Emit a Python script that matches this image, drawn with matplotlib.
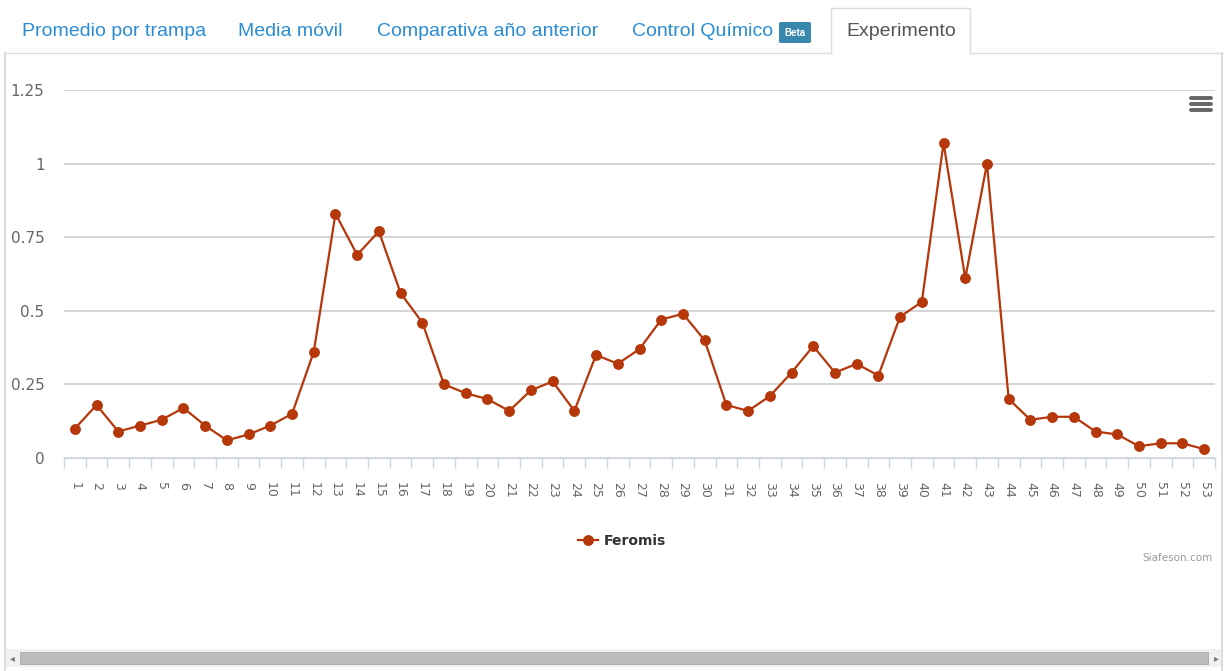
import matplotlib.pyplot as plt
from matplotlib.patches import FancyBboxPatch, Rectangle
from matplotlib.lines import Line2D

W, H = 1228, 671

semanas = list(range(1, 54))
etiquetas = [str(s) for s in semanas]
feromis = [0.10, 0.18, 0.09, 0.11, 0.13, 0.17, 0.11, 0.06, 0.08, 0.11,
           0.15, 0.36, 0.83, 0.69, 0.77, 0.56, 0.46, 0.25, 0.22, 0.20,
           0.16, 0.23, 0.26, 0.16, 0.35, 0.32, 0.37, 0.47, 0.49, 0.40,
           0.18, 0.16, 0.21, 0.29, 0.38, 0.29, 0.32, 0.28, 0.48, 0.53,
           1.07, 0.61, 1.00, 0.20, 0.13, 0.14, 0.14, 0.09, 0.08, 0.04,
           0.05, 0.05, 0.03]
yticks = [0, 0.25, 0.5, 0.75, 1, 1.25]
ylabels = ["0", "0.25", "0.5", "0.75", "1", "1.25"]
tabs = ["Promedio por trampa", "Media móvil", "Comparativa año anterior", "Control Químico"]
tab_x = [22, 238, 377, 632]

color = "#b5370a"
gris = "#666666"


def fx(x):
    return x / W


def fy(y):
    return 1 - y / H


fig = plt.figure(figsize=(W / 100, H / 100), dpi=100)
fig.patch.set_facecolor("white")

# pestañas
for t, x in zip(tabs, tab_x):
    fig.text(fx(x), fy(31), t, color="#2a8dd4", fontsize=14,
             family="Liberation Sans", va="center", ha="left")
fig.patches.append(FancyBboxPatch((fx(779), fy(43)), fx(32), 21 / H,
                                  boxstyle="round,pad=0,rounding_size=0.002",
                                  transform=fig.transFigure, fc="#3a87ad", ec="none"))
fig.text(fx(795), fy(33), "Beta", color="white", fontsize=7, weight="bold",
         family="Liberation Sans", ha="center", va="center")
# pestaña activa
fig.lines.append(Line2D([fx(831), fx(831), fx(970), fx(970)], [fy(53), fy(8), fy(8), fy(53)],
                        transform=fig.transFigure, color="#dddddd", lw=1))
fig.text(fx(846), fy(31), "Experimento", color="#555555", fontsize=14,
         family="Liberation Sans", va="center", ha="left")
fig.lines.append(Line2D([fx(5), fx(831)], [fy(53), fy(53)], transform=fig.transFigure,
                        color="#dddddd", lw=1))
fig.lines.append(Line2D([fx(970), fx(1222)], [fy(53), fy(53)], transform=fig.transFigure,
                        color="#dddddd", lw=1))
# bordes del panel
fig.lines.append(Line2D([fx(5), fx(5)], [fy(53), fy(671)], transform=fig.transFigure,
                        color="#dddddd", lw=1.5))
fig.lines.append(Line2D([fx(1222), fx(1222)], [fy(53), fy(671)], transform=fig.transFigure,
                        color="#dddddd", lw=1.5))

# barra de desplazamiento
fig.patches.append(Rectangle((fx(5), fy(667)), fx(1217), 18 / H, transform=fig.transFigure,
                             fc="#f1f1f1", ec="none"))
fig.patches.append(Rectangle((fx(20), fy(664)), fx(1188), 12 / H, transform=fig.transFigure,
                             fc="#bcbcbc", ec="#a8a8a8", lw=0.6))
fig.text(fx(12), fy(658), "◂", color="#777777", fontsize=7, ha="center", va="center")
fig.text(fx(1216), fy(658), "▸", color="#777777", fontsize=7, ha="center", va="center")

# gráfica
ax = fig.add_axes([fx(64), fy(458), fx(1215 - 64), (458 - 90) / H])
ax.plot(semanas, feromis, color=color, lw=1.6, marker="o", markersize=6.8,
        label="Feromis", clip_on=False, zorder=3)
ax.set_xlim(0.5, 53.5)
ax.set_ylim(0, 1.25)
ax.set_yticks(yticks, ylabels)
ax.set_xticks(semanas, etiquetas, rotation=-90)
ax.set_xticks([s + 0.5 for s in range(0, 54)], minor=True)
for s in ax.spines.values():
    s.set_visible(False)
ax.spines["bottom"].set_visible(True)
ax.spines["bottom"].set_color("#ccd6eb")
ax.grid(axis="y", color="#d2d2d2", lw=1.3)
ax.set_axisbelow(True)
ax.tick_params(axis="y", length=0, pad=14, labelsize=11, labelcolor=gris)
ax.tick_params(axis="x", which="major", length=0, pad=17, labelsize=9, labelcolor=gris)
ax.tick_params(axis="x", which="minor", length=7.5, width=1, color="#ccd6eb")

ax.legend(loc="center", bbox_to_anchor=(fx(622), fy(541)), bbox_transform=fig.transFigure,
          frameon=False, prop={"weight": "bold", "size": 10}, handlelength=1.4,
          handletextpad=0.4, labelcolor="#333333")

# menú
for yy in (98, 104, 110):
    fig.lines.append(Line2D([fx(1191), fx(1211)], [fy(yy), fy(yy)], transform=fig.transFigure,
                            color="#666666", lw=2.8, solid_capstyle="round"))

fig.text(fx(1213), fy(558), "Siafeson.com", color="#999999", fontsize=7.5,
         ha="right", va="center")

fig.savefig("out.png", dpi=100)
